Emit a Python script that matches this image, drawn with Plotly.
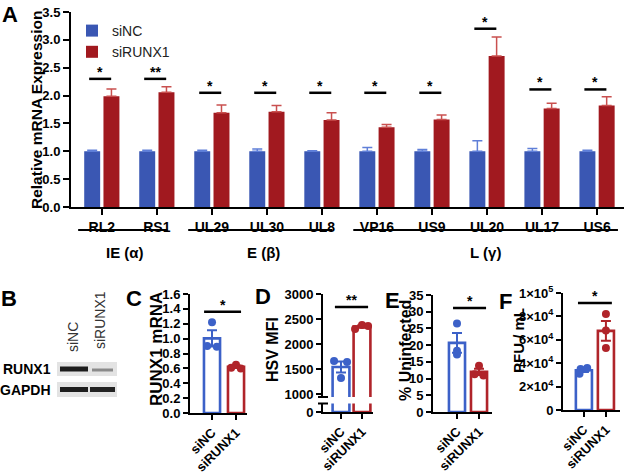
import plotly.graph_objects as go
import numpy as np

# ---------------- data ----------------
GENES = ["RL2", "RS1", "UL29", "UL30", "UL8", "VP16", "US9", "UL20", "UL17", "US6"]
NC_MEAN = [1.00, 1.00, 1.00, 1.00, 1.00, 1.00, 1.00, 1.00, 1.00, 1.00]
NC_ERR = [0.02, 0.02, 0.02, 0.04, 0.01, 0.07, 0.03, 0.19, 0.05, 0.02]
KD_MEAN = [1.99, 2.06, 1.69, 1.71, 1.56, 1.43, 1.57, 2.71, 1.77, 1.82]
KD_ERR = [0.13, 0.10, 0.14, 0.11, 0.13, 0.05, 0.08, 0.34, 0.09, 0.16]
SIG_Y = [2.30, 2.30, 2.05, 2.05, 2.05, 2.05, 2.05, 3.20, 2.11, 2.11]
SIG_TXT = ["*", "**", "*", "*", "*", "*", "*", "*", "*", "*"]
GROUP_NAMES = ["IE (α)", "E (β)", "L (γ)"]
GROUP_FIRST = [0, 2, 5]
GROUP_LAST = [1, 4, 9]
A_YTICKS = [0.0, 0.5, 1.0, 1.5, 2.0, 2.5, 3.0, 3.5]

CONDITIONS = ["siNC", "siRUNX1"]
C_NC = [1.22, 0.90, 0.89]
C_KD = [0.65, 0.61, 0.60]
C_YTICKS = [0.0, 0.2, 0.4, 0.6, 0.8, 1.0, 1.2, 1.4, 1.6]
D_NC = [1660, 1640, 1320]
D_KD = [2300, 2380, 2360]
D_YTICKS_UPPER = [1000, 1500, 2000, 2500, 3000]
D_YTICKS_LOWER = [0]
E_NC = [26.5, 18.3, 17.2]
E_KD = [13.8, 11.3, 10.9]
E_YTICKS = [0, 5, 10, 15, 20, 25, 30, 35]
F_NC = [35000, 36000, 31000]
F_KD = [82000, 68000, 53000]
F_YTICKS = [0, 20000, 40000, 60000, 80000, 100000]
F_TICKTEXT = ["0", "2×10<sup>4</sup>", "4×10<sup>4</sup>", "6×10<sup>4</sup>",
              "8×10<sup>4</sup>", "1×10<sup>5</sup>"]
LOWER_SIG = {"C": ("*", 1.36), "D": ("**", 2740), "E": ("*", 31.1), "F": ("*", 91500)}

# ---------------- helpers / styles ----------------
W, H = 625, 473
def px(x): return x / W
def py(y): return 1 - y / H
def b(s): return f"<b>{s}</b>"

FONT = "Liberation Sans, Arial, sans-serif"
BLUE, RED = "#3A57B3", "#A1191F"
BLUE_ERR, RED_ERR = "#5F7FD8", "#C9504F"
LBLUE, LRED = "#3C61C8", "#B0242A"

fig = go.Figure()
idx = list(range(len(GENES)))

# Panel A bars
fig.add_trace(go.Bar(x=idx, y=NC_MEAN, width=0.29, offset=-0.32, name="siNC",
                     marker=dict(color=BLUE, line=dict(width=0)),
                     error_y=dict(type="data", symmetric=False, array=NC_ERR,
                                  arrayminus=[0] * len(NC_ERR), color=BLUE_ERR,
                                  thickness=1.5, width=5),
                     xaxis="x", yaxis="y"))
fig.add_trace(go.Bar(x=idx, y=KD_MEAN, width=0.29, offset=0.03, name="siRUNX1",
                     marker=dict(color=RED, line=dict(width=0)),
                     error_y=dict(type="data", symmetric=False, array=KD_ERR,
                                  arrayminus=[0] * len(KD_ERR), color=RED_ERR,
                                  thickness=1.5, width=5),
                     xaxis="x", yaxis="y"))

shapes = []
annos = []
# significance in A
for i, (sy, st) in enumerate(zip(SIG_Y, SIG_TXT)):
    shapes.append(dict(type="line", xref="x", yref="y", x0=i - 0.23, x1=i + 0.17,
                       y0=sy, y1=sy, line=dict(color="black", width=2.5)))
    annos.append(dict(xref="x", yref="y", x=i - 0.03, y=sy, text=b(st), showarrow=False,
                      yanchor="bottom", yshift=-3,
                      font=dict(size=14, family=FONT, color="black")))
# group brackets
for k, (nm, a, bb) in enumerate(zip(GROUP_NAMES, GROUP_FIRST, GROUP_LAST)):
    x0 = a - 0.43
    x1 = bb + (0.38 if k == len(GROUP_NAMES) - 1 else 0.19)
    shapes.append(dict(type="line", xref="x", yref="paper", x0=x0, x1=x1,
                       y0=py(230), y1=py(230), line=dict(color="black", width=2)))
    annos.append(dict(xref="x", yref="paper", x=(x0 + x1) / 2 + (0.05 if k < 2 else 0), y=py(252),
                      text=b(nm), showarrow=False,
                      font=dict(size=15, family=FONT, color="black")))

# lower panels
def lower_panel(xa, ya, nc, kd, jit_nc, jit_kd, bw, extra_axes=None):
    for ci, (vals, col, jit) in enumerate([(nc, LBLUE, jit_nc), (kd, LRED, jit_kd)]):
        m = float(np.mean(vals))
        sem = float(np.std(vals, ddof=1) / np.sqrt(len(vals)))
        axes_list = [(xa, ya)] + (extra_axes or [])
        for (xx, yy) in axes_list:
            fig.add_trace(go.Bar(x=[ci], y=[m], width=bw, offset=-bw / 2,
                                 marker=dict(color="white", line=dict(color=col, width=2.6)),
                                 error_y=dict(type="data", array=[sem], color=col,
                                              thickness=2, width=5) if yy == ya else None,
                                 showlegend=False, xaxis=xx, yaxis=yy, cliponaxis=True))
        fig.add_trace(go.Scatter(x=[ci + j for j in jit], y=vals, mode="markers",
                                 marker=dict(color=col, size=8), showlegend=False,
                                 xaxis=xa, yaxis=ya, cliponaxis=False))

lower_panel("x2", "y2", C_NC, C_KD, [0, -0.2, 0.2], [0, -0.2, 0.2], 0.67)
lower_panel("x4", "y4", D_NC, D_KD, [-0.33, 0.29, 0], [-0.33, 0, 0.29], 0.8,
            extra_axes=[("x3", "y3")])
lower_panel("x5", "y5", E_NC, E_KD, [0, 0, 0], [0, -0.2, 0.2], 0.73)
lower_panel("x6", "y6", F_NC, F_KD, [-0.15, 0.15, -0.2], [0, 0, 0], 0.73)

for key, (xr, yr, x0, x1) in {"C": ("x2", "y2", -0.33, 1.21), "D": ("x4", "y4", -0.29, 1.29),
                              "E": ("x5", "y5", -0.18, 1.32), "F": ("x6", "y6", -0.27, 1.27)}.items():
    st, sy = LOWER_SIG[key]
    shapes.append(dict(type="line", xref=xr, yref=yr, x0=x0, x1=x1, y0=sy, y1=sy,
                       line=dict(color="black", width=2.5)))
    annos.append(dict(xref=xr, yref=yr, x=(x0 + x1) / 2, y=sy, text=b(st), showarrow=False,
                      yanchor="bottom", yshift=-3,
                      font=dict(size=14, family=FONT, color="black")))

# D axis break caps
for yy in (397, 403.5):
    shapes.append(dict(type="line", xref="paper", yref="paper", x0=px(318), x1=px(328),
                       y0=py(yy), y1=py(yy), line=dict(color="black", width=2)))

# Western blot (panel B)
shapes += [
    dict(type="rect", xref="paper", yref="paper", x0=px(57), x1=px(117), y0=py(376), y1=py(362),
         fillcolor="#e3e3e3", line=dict(width=0), layer="below"),
    dict(type="rect", xref="paper", yref="paper", x0=px(57), x1=px(117), y0=py(397), y1=py(382),
         fillcolor="#e3e3e3", line=dict(width=0), layer="below"),
    dict(type="rect", xref="paper", yref="paper", x0=px(60), x1=px(88), y0=py(371.5), y1=py(366.5),
         fillcolor="#1c1c1c", line=dict(width=0)),
    dict(type="rect", xref="paper", yref="paper", x0=px(92), x1=px(113), y0=py(371.5), y1=py(368.5),
         fillcolor="#8a8a8a", line=dict(width=0)),
    dict(type="rect", xref="paper", yref="paper", x0=px(60), x1=px(88), y0=py(392), y1=py(387),
         fillcolor="#1e1e1e", line=dict(width=0)),
    dict(type="rect", xref="paper", yref="paper", x0=px(90), x1=px(115), y0=py(392), y1=py(387),
         fillcolor="#222222", line=dict(width=0)),
]

def txt(x, y, s, size, bold=True, angle=0, xanchor="center", color="black"):
    d = dict(xref="paper", yref="paper", x=px(x), y=py(y), text=b(s) if bold else s,
             showarrow=False, xanchor=xanchor, yanchor="middle", textangle=angle,
             font=dict(size=size, family=FONT, color=color))
    annos.append(d)

# panel letters
for L, (x, y) in {"A": (10, 14), "B": (9, 298), "C": (134, 298), "D": (263, 296),
                  "E": (392, 300), "F": (505, 301)}.items():
    txt(x, y, L, 22)
# axis titles
txt(37, 110, "Relative mRNA Expression", 15.5, angle=-90)
txt(156, 349, "RUNX1 mRNA", 17, angle=-90)
txt(272, 350, "HSV MFI", 16, angle=-90)
txt(405, 351, "% Uninfected", 16, angle=-90)
txt(518, 341, "PFU / mL", 15, angle=-90)
# blot labels
txt(53, 369, "RUNX1", 14, xanchor="right")
txt(53, 390, "GAPDH", 14, xanchor="right")
txt(73, 337, "siNC", 14, bold=False, angle=-90, color="#333")
txt(100, 320, "siRUNX1", 14, bold=False, angle=-90, color="#333")

# ---------------- axes ----------------
tickfont = dict(size=13, family=FONT, color="black")
base = dict(showline=True, linewidth=2, linecolor="black", ticks="outside", ticklen=5,
            tickwidth=2, tickcolor="black", showgrid=False, zeroline=False, tickfont=tickfont,
            fixedrange=True, automargin=False)

def xax(dom, rng, anchor, **kw):
    d = dict(base, domain=[px(dom[0]), px(dom[1])], range=rng, anchor=anchor,
             tickvals=[0, 1], ticktext=[b(c) for c in CONDITIONS], tickangle=-45)
    d.update(kw)
    return d

def yax(dom, rng, anchor, vals, texts, **kw):
    d = dict(base, domain=[py(dom[0]), py(dom[1])], range=rng, anchor=anchor,
             tickvals=vals, ticktext=[b(t) for t in texts])
    d.update(kw)
    return d

layout = dict(
    template="none",
    width=W, height=H, margin=dict(l=0, r=0, t=0, b=0, autoexpand=False),
    paper_bgcolor="white", plot_bgcolor="white",
    showlegend=True,
    legend=dict(x=px(72), y=py(15), xanchor="left", yanchor="top", itemwidth=30,
                font=dict(size=14, family=FONT, color="#222"), bgcolor="rgba(0,0,0,0)",
                tracegroupgap=0),
    xaxis=dict(base, domain=[px(71), px(624)], range=[-0.56, 9.49], anchor="y",
               tickvals=idx, ticktext=[b(g) for g in GENES], ticklen=6,
               tickfont=dict(size=14, family=FONT, color="black")),
    yaxis=yax((207, 12), [0, 3.5], "x", A_YTICKS, [f"{v:.1f}" for v in A_YTICKS], ticklen=6),
    xaxis2=xax((190, 247), [-0.917, 1.458], "y2"),
    yaxis2=yax((413, 294), [0, 1.6], "x2", C_YTICKS, [f"{v:.1f}" for v in C_YTICKS]),
    xaxis3=xax((323, 373), [-0.857, 1.524], "y3"),
    yaxis3=yax((412, 403.5), [0, 170], "x3", D_YTICKS_LOWER, [str(v) for v in D_YTICKS_LOWER]),
    xaxis4=dict(domain=[px(323), px(373)], range=[-0.857, 1.524], anchor="y4",
                matches="x3", visible=False),
    yaxis4=yax((397, 294), [940, 3000], "x4", D_YTICKS_UPPER, [str(v) for v in D_YTICKS_UPPER]),
    xaxis5=xax((433, 492), [-1.09, 1.59], "y5"),
    yaxis5=yax((412, 295), [0, 35], "x5", E_YTICKS, [str(v) for v in E_YTICKS]),
    xaxis6=xax((563, 620), [-0.95, 1.64], "y6"),
    yaxis6=yax((410, 293), [0, 100000], "x6", F_YTICKS, F_TICKTEXT),
    shapes=shapes, annotations=annos,
)
fig.update_layout(**layout)
fig.write_html("out.html", config={"displayModeBar": False},
               post_script="document.body.style.margin='0px';document.body.style.padding='0px';")
